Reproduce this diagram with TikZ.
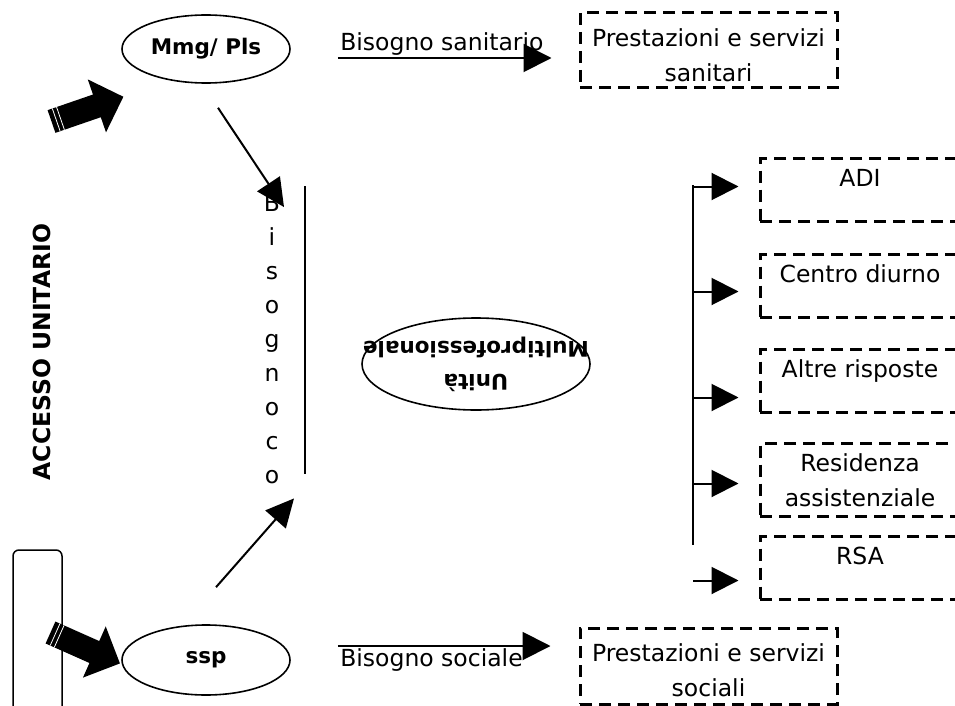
\documentclass[tikz,border=0pt]{standalone}
\usepackage{fontspec}
\setmainfont{DejaVu Sans}
\usetikzlibrary{shapes.geometric,arrows.meta,calc}

\begin{document}
\begin{tikzpicture}[x=1pt,y=-1pt,
    txt/.style={font=\fontsize{23.5}{35}\selectfont},
    oval/.style={draw, ellipse, line width=1.6pt, inner sep=0pt, align=center,
      font=\bfseries\fontsize{21.5}{33}\selectfont},
    dbox/.style={draw, line width=3pt, dash pattern=on 12pt off 7pt, align=center,
      inner sep=0pt, font=\fontsize{23.5}{35}\selectfont},
    sbox/.style={dbox, minimum width=257pt, minimum height=75pt},
    rbox/.style={dbox, minimum width=200pt, anchor=north, inner ysep=6pt,
      text height=22pt, text depth=29pt},
    arr/.style={line width=2pt, -{Triangle[length=28pt,width=28pt]}}]

  \useasboundingbox (0,0) rectangle (955,706);

  % left frame and access label
  \node[draw, line width=1.5pt, rounded corners=6pt, minimum width=49pt,
    minimum height=220pt] (acbox) at (37.5,660) {};
  \node[rotate=90, font=\bfseries\fontsize{23.5}{28}\selectfont] (acc) at (42,352) {ACCESSO UNITARIO};

  % block arrows
  \foreach \px/\py/\ang in {51.5/121.5/19, 50.5/632.5/-24}{
    \begin{scope}[shift={(\px,\py)}, rotate=\ang]
      \fill (0,-12) -- (48,-12) -- (48,-28) -- (76,0) -- (48,28) -- (48,12) -- (0,12) -- cycle;
      \draw[white, line width=0.8pt] (5,-12) -- (5,12) (9.5,-12) -- (9.5,12);
    \end{scope}
  }

  % entry points
  \node[oval, minimum width=168pt, minimum height=68pt] (mmg) at (206,49) {Mmg/ Pls};
  \node[oval, minimum width=168pt, minimum height=70pt] (ssp) at (206,660) {ssp};

  % complex need
  \node[txt, font=\fontsize{23.5}{34}\selectfont, align=center, inner sep=0pt] (bis)
    at (272,339) {B\\i\\s\\o\\g\\n\\o\\c\\o};
  \draw[line width=1.5pt] (305,186) -- (305,474);

  \node[oval, minimum width=228pt, minimum height=92pt, rotate=180] (umulti) at (476,364)
    {\makebox[0pt]{Unità}\\\makebox[0pt]{Multiprofessionale}};

  \coordinate (mmgout) at ($(mmg.south)+(12,24)$);
  \coordinate (bistop) at ($(bis.north)+(12,13)$);
  \coordinate (sspout) at ($(ssp.north)+(10,-37)$);
  \coordinate (bisbot) at ($(bis.south)+(22,14.5)$);
  \draw[arr, -{Triangle[length=28pt,width=27pt]}] (mmgout) -- (bistop);
  \draw[arr, -{Triangle[length=28pt,width=27pt]}] (sspout) -- (bisbot);

  % simple needs
  \node[sbox] (psan) at (708.5,50.5) {\rule{0pt}{27pt}Prestazioni e servizi\\sanitari};
  \node[sbox, minimum height=76pt] (psoc) at (708.5,666) {\rule{0pt}{27pt}Prestazioni e servizi\\sociali};

  \coordinate (sanA) at ($(mmg.east)+(47,9)$);
  \coordinate (sanB) at ($(psan.west)+(-27,7.5)$);
  \coordinate (socA) at ($(ssp.east)+(47,-14)$);
  \coordinate (socB) at ($(psoc.west)+(-28,-20)$);
  \draw[arr] (sanA) -- (sanB) node[txt, pos=0, anchor=south west, inner sep=1.5pt] (lsan) {Bisogno sanitario};
  \draw[arr] (socA) -- (socB) node[txt, pos=0, anchor=north west, inner sep=1.5pt] (lsoc) {Bisogno sociale};

  % answers of the unit
  \node[rbox] (adi) at (860,157) {ADI};
  \node[rbox] (cdiu) at (860,253) {Centro diurno};
  \node[rbox] (altre) at (860,348) {Altre risposte};
  \node[dbox, minimum width=200pt, minimum height=73pt, anchor=north] (resi) at (860,442)
    {Residenza\\assistenziale};
  \node[rbox] (rsa) at (860,535) {RSA};

  \coordinate (trunktop) at (693,185);
  \coordinate (trunkbot) at (693,545);
  \draw[line width=2pt] (trunktop) -- (trunkbot);
  \foreach \bx/\dy in {adi/3.5, cdiu/-5.5, altre/-16.5, resi/-3.5, rsa/-12.5}{
    \coordinate (\bx-in) at ([xshift=-20pt, yshift=\dy pt]\bx.west);
    \draw[arr, -{Triangle[length=27pt,width=27pt]}] (trunktop |- \bx-in) -- (\bx-in);
  }
\end{tikzpicture}
\end{document}
